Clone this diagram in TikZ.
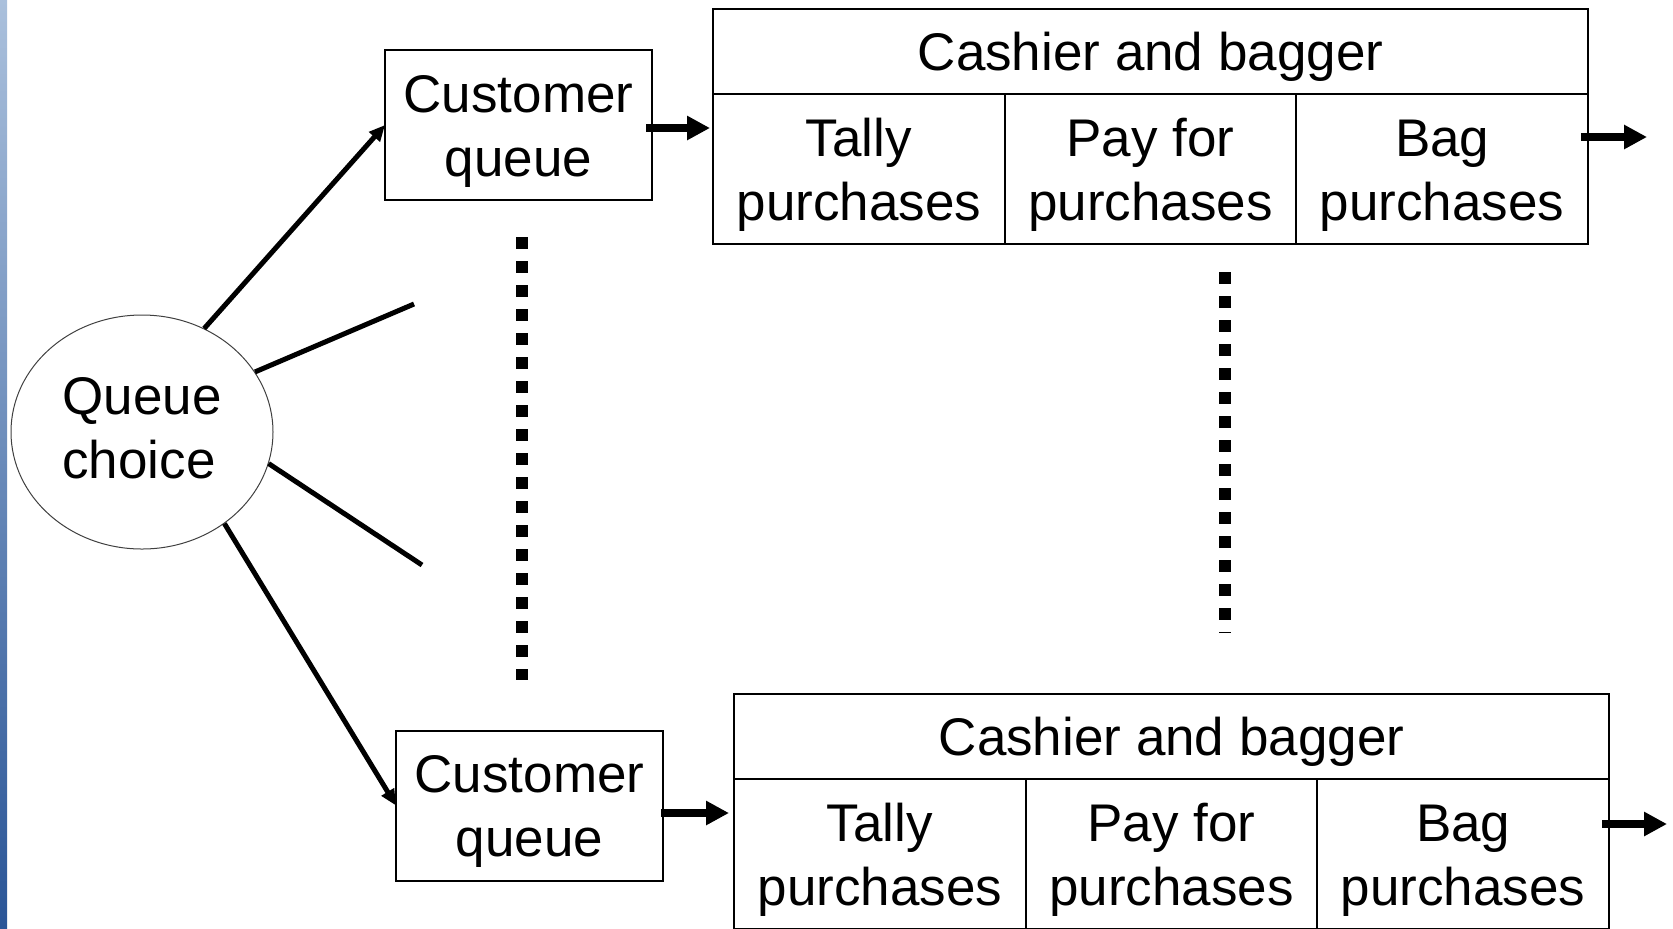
\documentclass[tikz,border=0pt]{standalone}
\usepackage{fontspec}
\setmainfont{Liberation Sans}
\usetikzlibrary{positioning,shapes.geometric,arrows.meta}

\definecolor{barlight}{HTML}{AAC0DC}
\definecolor{bardark}{HTML}{2A5597}

\begin{document}
\begin{tikzpicture}[x=0.5pt,y=-0.5pt,
    font=\fontsize{26.5}{32}\selectfont,
    box/.style={draw,line width=1pt,inner sep=0pt,outer sep=0pt,align=center},
    twoline/.style={box,text height=57pt,text depth=6pt,minimum height=75pt},
    queue/.style={twoline,minimum width=133.5pt},
    header/.style={box,execute at begin node={\rule{0pt}{24.7pt}},
                   minimum width=437.5pt,minimum height=42.75pt},
    cell/.style={twoline,minimum width=145.83pt},
    bigarrow/.style={line width=4pt,-{Triangle[length=11.5pt,width=11.5pt]}},
    thinarrow/.style={line width=2.5pt,-{Triangle[length=8pt,width=7pt]}},
    spoke/.style={line width=2.5pt},
    dots/.style={line width=6pt,dash pattern=on 6pt off 6pt}]
   \useasboundingbox (0,0) rectangle (1673,928);
   \shade[top color=barlight,bottom color=bardark] (0,0) rectangle (7,928);

   \node[ellipse,draw=black!75,line width=0.5pt,minimum width=131pt,
         minimum height=117pt,inner sep=0pt,align=left,
         execute at end node={\rule[-3.8pt]{0pt}{3.8pt}}] (choice) at (142,432) {Queue\\choice};

   % first checkout line
   \node[queue] (queue1) at (518.5,125) {Customer\\queue};
   \node[header] (header1) at (1150.5,51.25) {Cashier and bagger};
   \node[cell,anchor=north west] (tally1) at (header1.south west) {Tally\\purchases};
   \node[cell] (pay1) [right=0pt of tally1] {Pay for\\purchases};
   \node[cell] (bag1) [right=0pt of pay1] {Bag\\purchases};

   % last checkout line
   \node[queue] (queue2) at (529.5,805.5) {Customer\\queue};
   \node[header] (header2) at (1171.5,736.5) {Cashier and bagger};
   \node[cell,anchor=north west] (tally2) at (header2.south west) {Tally\\purchases};
   \node[cell] (pay2) [right=0pt of tally2] {Pay for\\purchases};
   \node[cell] (bag2) [right=0pt of pay2] {Bag\\purchases};

   \coordinate (spoke1) at (414,304);
   \coordinate (spoke2) at (422,565);
   \coordinate (out1) at (1647,137);
   \coordinate (out2) at (1667,824);

   \path[thinarrow]
    (choice.59) edge (queue1.west)
    (choice.-48) edge (queue2.west);
   \path[spoke]
    (choice.28.4) edge (spoke1)
    (choice.-14.8) edge (spoke2);

   \draw[bigarrow,shorten <=-3pt] ([yshift=-1.5pt]queue1.east)
      -- ([yshift=-1.5pt,xshift=-1.5pt]queue1.east -| tally1.west);
   \draw[bigarrow,shorten <=-1pt] ([yshift=-3.75pt]queue2.east)
      -- ([yshift=-3.75pt,xshift=-2.5pt]queue2.east -| tally2.west);
   \draw[bigarrow,shorten <=-3.5pt] (bag1.east |- out1) -- (out1);
   \draw[bigarrow,shorten <=-3.5pt] (bag2.east |- out2) -- (out2);

   % more lines in between
   \draw[dots] (522,237) -- (522,680);
   \draw[dots] (1225,272) -- (1225,633);
\end{tikzpicture}
\end{document}
